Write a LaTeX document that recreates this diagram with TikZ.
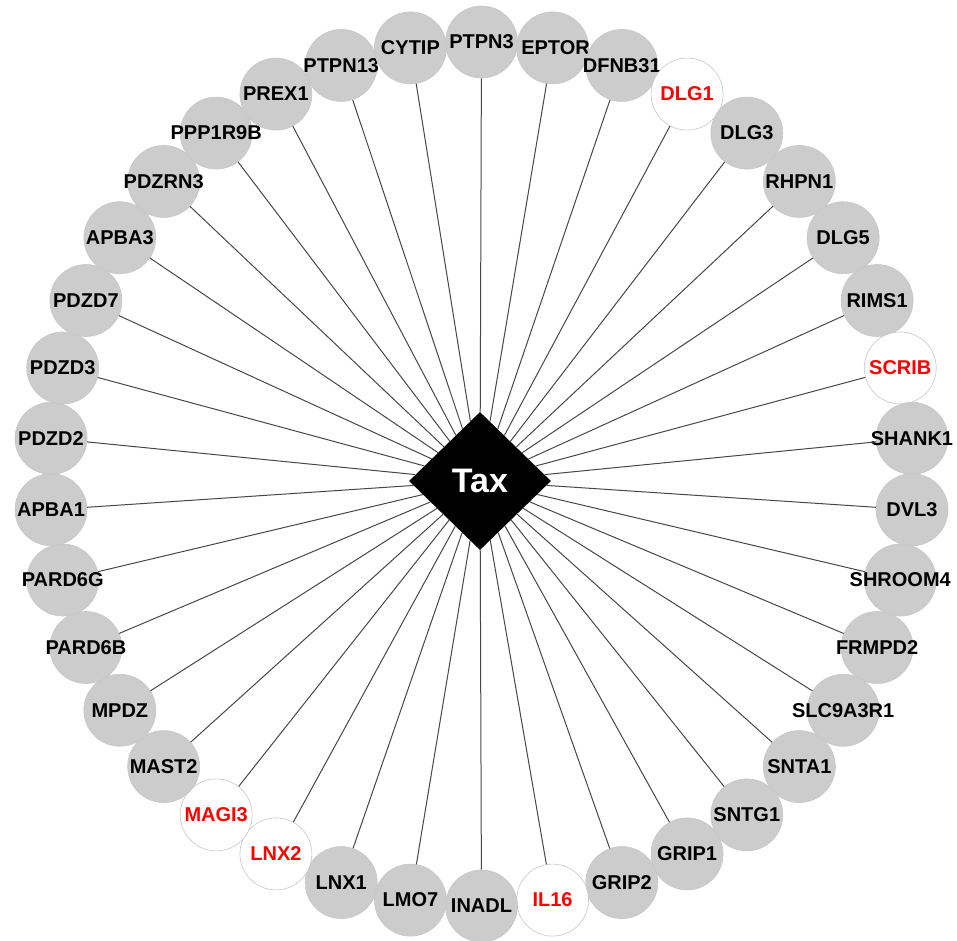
\documentclass[tikz,border=0pt]{standalone}
\usepackage{fontspec}
\setmainfont{Liberation Sans}
\usepackage{tikz}
\usetikzlibrary{shapes.geometric}
\newcommand{\gene}[1] {\makebox[0pt]{#1}}

\begin{document}
\begin{tikzpicture}[x=1pt,y=1pt]
        \tikzset{pdz/.style = {shape=circle,draw=black!22,fill=black!20,line width=0.6pt,minimum size=72pt,inner sep=0pt,font=\bfseries\fontsize{20}{20}\selectfont}}
        \tikzset{hit/.style = {pdz,fill=white,text=red}}
        \tikzset{hub/.style = {shape=diamond,fill=black,text=white,minimum width=142pt,minimum height=138pt,inner sep=0pt,font=\bfseries\fontsize{34}{34}\selectfont}}
        \tikzset{edge/.style = {-,draw=black!72,line width=1pt}}

        \useasboundingbox (-481.5, -466) rectangle (475.5, 474);

        \node[hub] (Tax) at (-1.5, -7) {Tax};

        \node[pdz] (PTPN3) at (90:432) {\gene{PTPN3}};
        \node[pdz] (EPTOR) at (80.53:432) {\gene{\hspace{6pt}EPTOR}};
        \node[pdz] (DFNB31) at (71.05:432) {\gene{DFNB31}};
        \node[hit] (DLG1) at (61.58:432) {\gene{DLG1}};
        \node[pdz] (DLG3) at (52.11:432) {\gene{DLG3}};
        \node[pdz] (RHPN1) at (42.63:432) {\gene{RHPN1}};
        \node[pdz] (DLG5) at (33.16:432) {\gene{DLG5}};
        \node[pdz] (RIMS1) at (23.68:432) {\gene{RIMS1}};
        \node[hit] (SCRIB) at (14.21:432) {\gene{SCRIB}};
        \node[pdz] (SHANK1) at (4.74:432) {\gene{SHANK1}};
        \node[pdz] (DVL3) at (-4.74:432) {\gene{DVL3}};
        \node[pdz] (SHROOM4) at (-14.21:432) {\gene{SHROOM4}};
        \node[pdz] (FRMPD2) at (-23.68:432) {\gene{FRMPD2}};
        \node[pdz] (SLC9A3R1) at (-33.16:432) {\gene{SLC9A3R1}};
        \node[pdz] (SNTA1) at (-42.63:432) {\gene{SNTA1}};
        \node[pdz] (SNTG1) at (-52.11:432) {\gene{SNTG1}};
        \node[pdz] (GRIP1) at (-61.58:432) {\gene{GRIP1}};
        \node[pdz] (GRIP2) at (-71.05:432) {\gene{GRIP2}};
        \node[hit] (IL16) at (-80.53:432) {\gene{IL16}};
        \node[pdz] (INADL) at (-90:432) {\gene{INADL}};
        \node[pdz] (LMO7) at (-99.47:432) {\gene{LMO7}};
        \node[pdz] (LNX1) at (-108.95:432) {\gene{LNX1}};
        \node[hit] (LNX2) at (-118.42:432) {\gene{LNX2}};
        \node[hit] (MAGI3) at (-127.89:432) {\gene{MAGI3}};
        \node[pdz] (MAST2) at (-137.37:432) {\gene{MAST2}};
        \node[pdz] (MPDZ) at (-146.84:432) {\gene{MPDZ}};
        \node[pdz] (PARD6B) at (-156.32:432) {\gene{PARD6B}};
        \node[pdz] (PARD6G) at (-165.79:432) {\gene{PARD6G}};
        \node[pdz] (APBA1) at (-175.26:432) {\gene{APBA1}};
        \node[pdz] (PDZD2) at (175.26:432) {\gene{PDZD2}};
        \node[pdz] (PDZD3) at (165.79:432) {\gene{PDZD3}};
        \node[pdz] (PDZD7) at (156.32:432) {\gene{PDZD7}};
        \node[pdz] (APBA3) at (146.84:432) {\gene{APBA3}};
        \node[pdz] (PDZRN3) at (137.37:432) {\gene{PDZRN3}};
        \node[pdz] (PPP1R9B) at (127.89:432) {\gene{PPP1R9B}};
        \node[pdz] (PREX1) at (118.42:432) {\gene{PREX1}};
        \node[pdz] (PTPN13) at (108.95:432) {\gene{PTPN13}};
        \node[pdz] (CYTIP) at (99.47:432) {\gene{CYTIP}};

        \draw[edge] (Tax) to (PTPN3);
        \draw[edge] (Tax) to (EPTOR);
        \draw[edge] (Tax) to (DFNB31);
        \draw[edge] (Tax) to (DLG1);
        \draw[edge] (Tax) to (DLG3);
        \draw[edge] (Tax) to (RHPN1);
        \draw[edge] (Tax) to (DLG5);
        \draw[edge] (Tax) to (RIMS1);
        \draw[edge] (Tax) to (SCRIB);
        \draw[edge] (Tax) to (SHANK1);
        \draw[edge] (Tax) to (DVL3);
        \draw[edge] (Tax) to (SHROOM4);
        \draw[edge] (Tax) to (FRMPD2);
        \draw[edge] (Tax) to (SLC9A3R1);
        \draw[edge] (Tax) to (SNTA1);
        \draw[edge] (Tax) to (SNTG1);
        \draw[edge] (Tax) to (GRIP1);
        \draw[edge] (Tax) to (GRIP2);
        \draw[edge] (Tax) to (IL16);
        \draw[edge] (Tax) to (INADL);
        \draw[edge] (Tax) to (LMO7);
        \draw[edge] (Tax) to (LNX1);
        \draw[edge] (Tax) to (LNX2);
        \draw[edge] (Tax) to (MAGI3);
        \draw[edge] (Tax) to (MAST2);
        \draw[edge] (Tax) to (MPDZ);
        \draw[edge] (Tax) to (PARD6B);
        \draw[edge] (Tax) to (PARD6G);
        \draw[edge] (Tax) to (APBA1);
        \draw[edge] (Tax) to (PDZD2);
        \draw[edge] (Tax) to (PDZD3);
        \draw[edge] (Tax) to (PDZD7);
        \draw[edge] (Tax) to (APBA3);
        \draw[edge] (Tax) to (PDZRN3);
        \draw[edge] (Tax) to (PPP1R9B);
        \draw[edge] (Tax) to (PREX1);
        \draw[edge] (Tax) to (PTPN13);
        \draw[edge] (Tax) to (CYTIP);
    \end{tikzpicture}
\end{document}
